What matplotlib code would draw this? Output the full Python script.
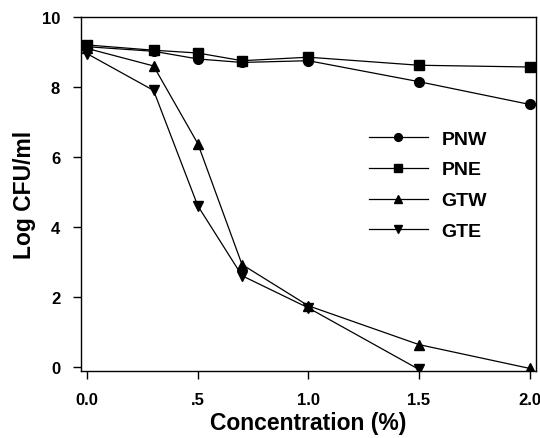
import matplotlib
matplotlib.use('Agg')
import matplotlib.pyplot as plt

conc = [0.0, 0.3, 0.5, 0.7, 1.0, 1.5, 2.0]
pnw = [9.15, 9.02, 8.8, 8.7, 8.75, 8.15, 7.5]
pne = [9.2, 9.05, 8.97, 8.75, 8.85, 8.62, 8.57]
gtw = [9.1, 8.6, 6.38, 2.92, 1.74, 0.63, -0.05]
gte = [8.95, 7.9, 4.6, 2.6, 1.68, -0.08, None]

x_ticks = [0.0, 0.5, 1.0, 1.5, 2.0]
x_labels = ['0.0', '.5', '1.0', '1.5', '2.0']
y_ticks = [0, 2, 4, 6, 8, 10]

plt.rcParams['font.family'] = ['Liberation Sans', 'DejaVu Sans']
plt.rcParams['font.weight'] = 'bold'

fig = plt.figure(figsize=(5.4, 4.39), dpi=100)
ax = fig.add_axes([0.15, 0.153, 0.843, 0.806])

series = [('PNW', pnw, 'o'), ('PNE', pne, 's'), ('GTW', gtw, '^'), ('GTE', gte, 'v')]
for name, vals, m in series:
    xs = [c for c, v in zip(conc, vals) if v is not None]
    ys = [v for v in vals if v is not None]
    ax.plot(xs, ys, color='black', linewidth=0.9, marker=m, markersize=7,
            markerfacecolor='black', markeredgecolor='black', label=name)

ax.set_xlim(-0.028, 2.03)
ax.set_ylim(-0.12, 10)
ax.set_xticks(x_ticks)
ax.set_xticklabels(x_labels)
ax.set_yticks(y_ticks)
ax.tick_params(axis='both', direction='out', length=6, width=1, labelsize=12)
ax.tick_params(axis='x', pad=9)
ax.tick_params(axis='y', pad=9)
for s in ax.spines.values():
    s.set_linewidth(1)

ax.set_xlabel('Concentration (%)', fontsize=16.5, fontweight='bold', labelpad=3)
ax.set_ylabel('Log CFU/ml', fontsize=16.5, fontweight='bold', labelpad=4)

# legend sits in the empty middle-right area
leg = ax.legend(loc='upper left', bbox_to_anchor=(0.612, 0.708), frameon=False,
                fontsize=14, handlelength=3.0, labelspacing=0.68, handletextpad=0.7,
                borderpad=0, markerscale=0.8)
for t in leg.get_texts():
    t.set_fontweight('bold')

fig.savefig('out.png', dpi=100)
